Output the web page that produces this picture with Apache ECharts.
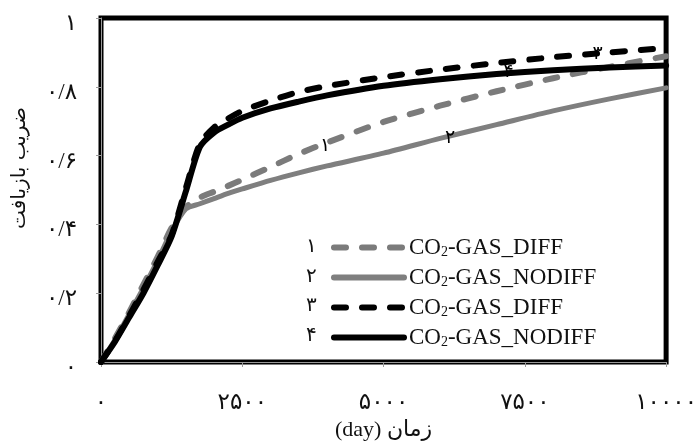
<!DOCTYPE html>
<html>
<head>
<meta charset="utf-8">
<script src="https://cdn.jsdelivr.net/npm/echarts@6/dist/echarts.min.js"></script>
<style>html,body{margin:0;padding:0;background:#fff;}#c{width:700px;height:446px;}</style>
</head>
<body>
<div id="c"></div>
<script>
// ---- data ----
var days = [0, 250, 500, 750, 1000, 1250, 1500, 1750, 2000, 2250, 2500, 3000, 3500, 4000, 5000, 6000, 7000, 8000, 9000, 10000];
var gasDiff1   = [0, 0.07, 0.145, 0.225, 0.305, 0.39, 0.45, 0.478, 0.495, 0.512, 0.53, 0.567, 0.605, 0.638, 0.698, 0.745, 0.787, 0.825, 0.858, 0.889];
var gasNoDiff2 = [0, 0.065, 0.14, 0.215, 0.295, 0.38, 0.445, 0.46, 0.475, 0.49, 0.503, 0.528, 0.55, 0.57, 0.607, 0.65, 0.69, 0.73, 0.765, 0.797];
var gasDiff3   = [0, 0.062, 0.135, 0.21, 0.29, 0.37, 0.505, 0.635, 0.682, 0.708, 0.73, 0.76, 0.785, 0.802, 0.828, 0.85, 0.869, 0.886, 0.9, 0.913];
var gasNoDiff4 = [0, 0.06, 0.13, 0.2, 0.28, 0.365, 0.495, 0.625, 0.667, 0.69, 0.71, 0.737, 0.757, 0.775, 0.803, 0.822, 0.837, 0.848, 0.856, 0.862];
var seriesNames = ['۱', '۲', '۳', '۴'];
var legendLabels = ['CO2-GAS_DIFF', 'CO2-GAS_NODIFF', 'CO2-GAS_DIFF', 'CO2-GAS_NODIFF'];
var curveLabelIndex = [13, 15, 18, 16];
var xTickLabels = ['۰', '۲۵۰۰', '۵۰۰۰', '۷۵۰۰', '۱۰۰۰۰'];
var yTickLabels = ['۰', '۰/۲', '۰/۴', '۰/۶', '۰/۸', '۱'];
var xAxisName = '\u202Bزمان (day)\u202C';
var yAxisName = 'ضریب بازیافت';

// ---- chart ----
var allSeries = [gasDiff1, gasNoDiff2, gasDiff3, gasNoDiff4];
var styles = [
  {color: '#7b7b7b', width: 6, type: [12, 16], labelOffset: [-2, 4]},
  {color: '#7f7f7f', width: 5, type: 'solid', labelOffset: [10, 0]},
  {color: '#000000', width: 6, type: [12, 16], labelOffset: [-12, 2]},
  {color: '#000000', width: 6, type: 'solid', labelOffset: [12, -2]}
];
var fontSerif = '"Liberation Serif", "DejaVu Serif", "DejaVu Sans", serif';
var fontFa = '"DejaVu Sans", sans-serif';

function pairs(ys) { return days.map(function (d, i) { return [d, ys[i]]; }); }

var series = allSeries.map(function (ys, k) {
  var idx = curveLabelIndex[k];
  return {
    name: seriesNames[k],
    type: 'line',
    data: pairs(ys),
    symbol: 'none',
    smooth: 0.25,
    z: 2 + k,
    lineStyle: {color: styles[k].color, width: styles[k].width, type: styles[k].type, cap: 'round', join: 'round'},
    itemStyle: {color: styles[k].color},
    markPoint: {
      z: 20,
      symbol: 'circle', symbolSize: 1,
      itemStyle: {color: 'rgba(0,0,0,0)'},
      label: {show: true, position: 'inside', offset: styles[k].labelOffset, formatter: '{b}', color: '#000', fontSize: 19, fontFamily: fontFa},
      data: [{name: seriesNames[k], coord: [days[idx], ys[idx]]}]
    }
  };
});

var chart = echarts.init(document.getElementById('c'), null, {renderer: 'canvas'});
chart.setOption({
  animation: false,
  backgroundColor: '#fff',
  grid: {left: 101, right: 33, top: 18, bottom: 71, show: true, borderColor: '#000', borderWidth: 5, backgroundColor: 'transparent'},
  xAxis: {
    type: 'value', min: 0, max: 10000, interval: 2500, offset: 3,
    name: xAxisName, nameLocation: 'middle', nameGap: 54,
    nameTextStyle: {fontSize: 22, fontFamily: fontSerif, color: '#111'},
    axisLine: {show: true, lineStyle: {color: '#999', width: 1}},
    axisTick: {show: true, length: 5, lineStyle: {color: '#999'}},
    splitLine: {show: false},
    axisLabel: {margin: 26, fontSize: 23, fontFamily: fontSerif, color: '#111',
      formatter: function (v) { return xTickLabels[Math.round(v / 2500)]; }}
  },
  yAxis: {
    type: 'value', min: 0, max: 1, interval: 0.2, offset: 3,
    name: yAxisName, nameLocation: 'middle', nameGap: 68,
    nameTextStyle: {fontSize: 20, fontFamily: fontFa, color: '#111', padding: [0, 0, 0, 44]},
    axisLine: {show: true, lineStyle: {color: '#999', width: 1}},
    axisTick: {show: true, length: 5, lineStyle: {color: '#999'}},
    splitLine: {show: false},
    axisLabel: {margin: 21, fontSize: 23, fontFamily: fontSerif, color: '#111', verticalAlign: 'top', lineHeight: 12,
      formatter: function (v) { return yTickLabels[Math.round(v / 0.2)]; }}
  },
  legend: {
    orient: 'vertical', left: 326, top: 223,
    itemWidth: 70, itemHeight: 20, itemGap: -1,
    itemStyle: {opacity: 0},
    lineStyle: {width: 6, cap: 'round'},
    data: seriesNames,
    formatter: function (name) {
      var t = legendLabels[seriesNames.indexOf(name)];
      return '{a|CO}{s|2}{a|' + t.slice(3) + '}';
    },
    textStyle: {
      color: '#111', fontFamily: fontSerif, fontSize: 23,
      rich: {
        a: {fontSize: 23, fontFamily: fontSerif, color: '#111', lineHeight: 23},
        s: {fontSize: 14, fontFamily: fontSerif, color: '#111', lineHeight: 14, verticalAlign: 'bottom', padding: [17, 0, 0, 0]}
      }
    }
  },
  graphic: seriesNames.map(function (n, k) {
    return {type: 'text', left: 306, top: 237 + k * 29.5, style: {text: n, fontSize: 20, fontFamily: fontFa, fill: '#111'}};
  }),
  series: series
});
</script>
</body>
</html>
